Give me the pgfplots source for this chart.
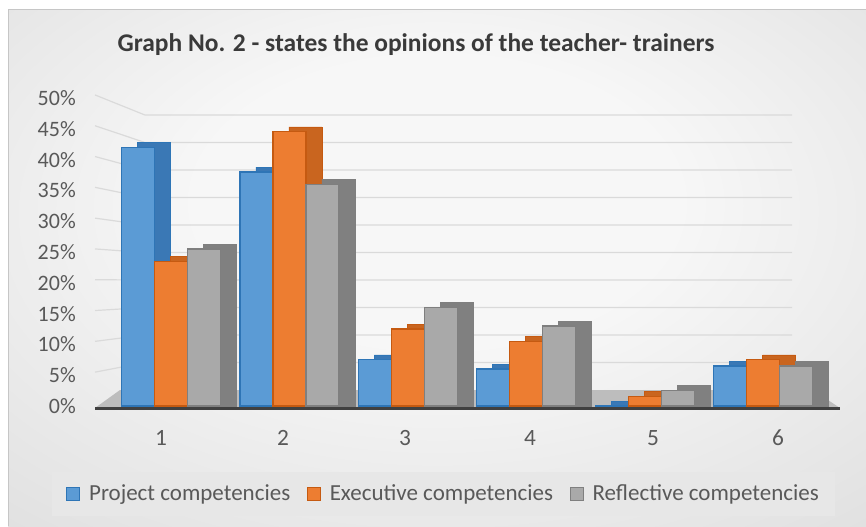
\documentclass[border=0pt]{standalone}
\usepackage{pgfplots}
\pgfplotsset{compat=1.18}
\usepackage{pgfplotstable}
\usepackage{fontspec}
\setmainfont{Carlito}
\definecolor{cblue}{HTML}{5B9BD5}
\definecolor{cblueE}{HTML}{2E75B6}
\definecolor{cblueD}{HTML}{3A78B5}
\definecolor{corange}{HTML}{ED7D31}
\definecolor{corangeE}{HTML}{C55A11}
\definecolor{corangeD}{HTML}{C9651F}
\definecolor{cgray}{HTML}{A9A9A9}
\definecolor{cgrayE}{HTML}{7F7F7F}
\definecolor{cgrayD}{HTML}{808080}
\definecolor{bgin}{HTML}{F7F7F7}
\definecolor{bgout}{HTML}{C2C2C2}
\definecolor{legbg}{HTML}{E7E7E7}
\definecolor{gridc}{HTML}{DADADA}
\definecolor{floorc}{HTML}{BDBDBD}
\definecolor{axisc}{HTML}{404040}
\definecolor{textc}{HTML}{595959}
\definecolor{titlec}{HTML}{3A3A3A}
\pgfdeclareradialshading{bgshade}{\pgfpoint{0bp}{8bp}}{color(0bp)=(bgin); color(14bp)=(bgin); color(72bp)=(bgout)}

\pgfplotstableread{
x p e r
1 42 23.5 25.5
2 38 44.5 36
3 7.5 12.5 16
4 6 10.5 13
5 0 1.5 2.5
6 6.5 7.5 6.5
}\datatable

\begin{document}
\begin{tikzpicture}[x=0.75pt,y=0.75pt]
\path[use as bounding box] (0,0) rectangle (866,526);
\shade[shading=bgshade] (8,0) rectangle (866,516);
\draw[gray!45, line width=0.75pt] (8,0) -- (8,516) -- (866,516);
\fill[legbg] (52,10) rectangle (835,54);
\node[anchor=base, font=\bfseries\fontsize{19.1}{22}\selectfont, text=titlec, inner sep=0pt] at (416,474) {Graph No. 2 - states the opinions of the teacher- trainers};
\begin{axis}[
  at={(71.25pt,88.5pt)}, anchor=south west,
  width=558.75pt, height=232.5pt, scale only axis,
  xmin=0.358, xmax=6.65, ymin=-0.32, ymax=50,
  axis line style={draw=none},
  clip=false,
  xtick={0.9155,1.946,2.976,4.032,5.071,6.127},
  xticklabels={1,2,3,4,5,6},
  ytick={0,5,...,50},
  yticklabel={\pgfmathprintnumber{\tick}\%},
  /pgf/number format/assume math mode=true,
  major tick length=0pt,
  tick style={draw=none},
  tick label style={text=textc},
  yticklabel style={font=\fontsize{16.5}{18}\selectfont, anchor=east, inner sep=0pt, xshift=-14.25pt},
  xticklabel style={font=\fontsize{17.5}{19}\selectfont, anchor=base, inner sep=0pt, yshift=-27.75pt},
  legend columns=3,
  legend style={at={(0.4678,-0.2774)}, anchor=center, draw=none, fill=none,
    font=\fontsize{17.25}{19}\selectfont, text=textc,
    /tikz/every odd column/.append style={column sep=5pt},
    /tikz/every even column/.append style={column sep=11pt},
    nodes={inner sep=1.5pt}},
  legend image code/.code={\fill[#1] (0pt,-4.875pt) rectangle (9.75pt,4.875pt);},
]
% back wall / side wall grid lines
\draw[gridc, line width=0.9pt] (axis cs:0.358,5.5) -- (axis cs:0.78,7.06) -- (axis cs:6.245,7.06);
\draw[gridc, line width=0.9pt] (axis cs:0.358,10.5) -- (axis cs:0.78,11.53) -- (axis cs:6.245,11.53);
\draw[gridc, line width=0.9pt] (axis cs:0.358,15.5) -- (axis cs:0.78,15.99) -- (axis cs:6.245,15.99);
\draw[gridc, line width=0.9pt] (axis cs:0.358,20.5) -- (axis cs:0.78,20.46) -- (axis cs:6.245,20.46);
\draw[gridc, line width=0.9pt] (axis cs:0.358,25.5) -- (axis cs:0.78,24.92) -- (axis cs:6.245,24.92);
\draw[gridc, line width=0.9pt] (axis cs:0.358,30.5) -- (axis cs:0.78,29.38) -- (axis cs:6.245,29.38);
\draw[gridc, line width=0.9pt] (axis cs:0.358,35.5) -- (axis cs:0.78,33.85) -- (axis cs:6.245,33.85);
\draw[gridc, line width=0.9pt] (axis cs:0.358,40.5) -- (axis cs:0.78,38.31) -- (axis cs:6.245,38.31);
\draw[gridc, line width=0.9pt] (axis cs:0.358,45.5) -- (axis cs:0.78,42.78) -- (axis cs:6.245,42.78);
\draw[gridc, line width=0.9pt] (axis cs:0.358,50.5) -- (axis cs:0.78,47.24) -- (axis cs:6.245,47.24);
% floor
\fill[floorc] (axis cs:0.358,-0.32) -- (axis cs:6.65,-0.32) -- (axis cs:6.42,2.6) -- (axis cs:0.569,2.6) -- cycle;
% depth (side/top) faces
\addplot[ybar, forget plot, bar width=0.2787, bar shift=-0.1437, fill=cblueD, draw=cblueE, line width=0.6pt] table[x=x, y expr=\thisrow{p}+0.8] \datatable;
\addplot[ybar, forget plot, bar width=0.2787, bar shift=0.135, fill=corangeD, draw=corangeE, line width=0.6pt] table[x=x, y expr=\thisrow{e}+0.8] \datatable;
\addplot[ybar, forget plot, bar width=0.2787, bar shift=0.4137, fill=cgrayD, draw=cgrayE, line width=0.6pt] table[x=x, y expr=\thisrow{r}+0.8] \datatable;
% front faces
\addplot[ybar, bar width=0.2787, bar shift=-0.2787, fill=cblue, draw=cblueE, line width=0.9pt] table[x=x, y=p] \datatable;
\addplot[ybar, bar width=0.2787, bar shift=0, fill=corange, draw=corangeE, line width=0.9pt] table[x=x, y=e] \datatable;
\addplot[ybar, bar width=0.2787, bar shift=0.2787, fill=cgray, draw=cgrayE, line width=0.9pt] table[x=x, y=r] \datatable;
% axis base line
\draw[axisc, line width=2.25pt] (axis cs:0.358,-0.32) -- (axis cs:6.65,-0.32);
\legend{Project competencies, Executive competencies, Reflective competencies}
\end{axis}
\end{tikzpicture}
\end{document}
